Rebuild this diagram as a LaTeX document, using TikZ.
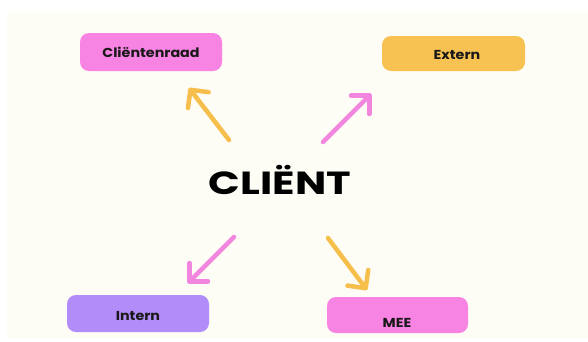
\documentclass[tikz,border=0pt]{standalone}
\usepackage{fontspec}
\setmainfont{Poppins}
\usetikzlibrary{arrows.meta}
\definecolor{bg}{HTML}{FDFCF5}
\definecolor{pinkbox}{HTML}{F784E2}
\definecolor{yellowbox}{HTML}{F8C252}
\definecolor{purplebox}{HTML}{B28CF8}
\definecolor{pinkarrow}{HTML}{F286DF}
\definecolor{yellowarrow}{HTML}{F6BE4A}
\tikzset{
  box/.style={inner sep=0pt, font=\bfseries\fontsize{13}{15}\selectfont, text=black!90, xscale=1.1},
  conn/.style={line width=4.5pt, line cap=round, line join=round,
    -{Straight Barb[length=13pt, width=26pt, line width=4.5pt, round]}},
}
\begin{document}
\begin{tikzpicture}[x=1pt,y=-1pt]
\useasboundingbox (0,0) rectangle (588,341);
\fill[white] (0,0) rectangle (588,341);
\fill[bg] (7,12) rectangle (588,338);
% boxes
\fill[pinkbox, rounded corners=9pt] (80,33) rectangle (222,71);
\node[box] (raad) at (151,52) {Cliëntenraad};
\fill[yellowbox, rounded corners=9pt] (382,36) rectangle (525,71);
\node[box] (ext) at (457,55) {Extern};
\fill[purplebox, rounded corners=9pt] (67,295) rectangle (209,332);
\node[box] (int) at (138,316) {Intern};
\fill[pinkbox, rounded corners=9pt] (327,297) rectangle (468,333);
\node[box] (mee) at (397,323) {MEE};
% center
\node[font=\bfseries\fontsize{32}{35}\selectfont, text=black, xscale=1.3] (cl) at (280,180) {CLIËNT};
% arrow endpoints
\coordinate (a1s) at (229,140); \coordinate (a1e) at (189,88);
\coordinate (a2s) at (323,142); \coordinate (a2e) at (371,94);
\coordinate (a3s) at (234,237); \coordinate (a3e) at (188,283);
\coordinate (a4s) at (328,238); \coordinate (a4e) at (367,290);
\draw[conn, yellowarrow] (a1s) -- (a1e);
\draw[conn, pinkarrow] (a2s) -- (a2e);
\draw[conn, pinkarrow] (a3s) -- (a3e);
\draw[conn, yellowarrow] (a4s) -- (a4e);
\end{tikzpicture}
\end{document}
